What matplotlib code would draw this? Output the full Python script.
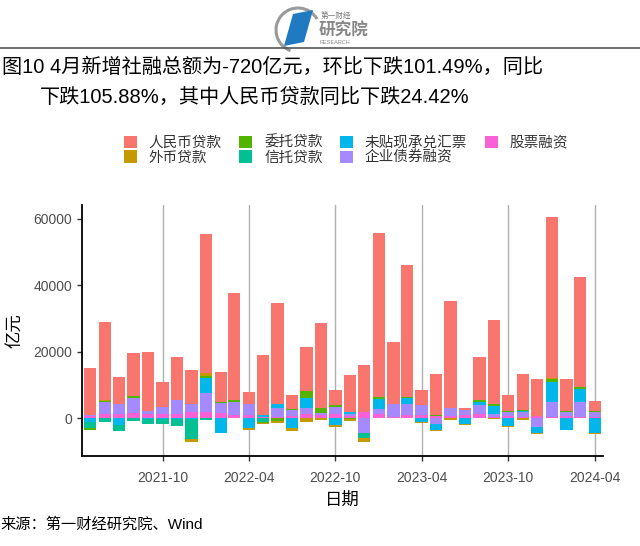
import numpy as np
import pandas as pd
import matplotlib
matplotlib.use("Agg")
import matplotlib.pyplot as plt
import matplotlib.dates as mdates
import matplotlib.patches as mpatches

plt.rcParams["font.family"] = ["Liberation Sans", "Noto Sans CJK SC"]

# ---- 数据（亿元），2021-05 ~ 2024-04 ----
months = pd.date_range("2021-05-01", "2024-04-01", freq="MS")

series_names = ["人民币贷款", "外币贷款", "委托贷款", "信托贷款",
                "未贴现承兑汇票", "企业债券融资", "股票融资"]
series_colors = ["#F8766D", "#C49A00", "#53B400", "#00C094",
                 "#00B6EB", "#A58AFF", "#FB61D7"]

rmb_loans = [14100, 23400, 8300, 12900, 17700, 7500, 13000, 10200,
             41900, 9100, 32200, 3500, 18000, 30500, 4100, 13300, 25500, 4500,
             11000, 14100, 49100, 18700, 39500, 4500, 12300, 32200, 600,
             13000, 25400, 4800, 10800, 11000, 48400, 9600, 32900, 3100]
fx_loans = [0, 300, 0, 0, 0, -200, 0, -700,
            1000, 0, 0, -500, -300, -500, -1000, -1000, -600, -700,
            -600, -1400, 0, 0, 0, -200, -300, -400, -300,
            0, -300, -400, -500, -300, 400, 0, 0, -300]
entrusted = [-400, 200, 0, 600, 0, 0, 0, 0,
             400, 300, 500, 0, -300, -800, 200, 2000, 1700, 400,
             -200, 0, 800, 0, 500, 0, 300, 0, 0,
             500, 400, 400, 300, 200, 800, 300, 700, 200]
trust = [-1800, -1200, -1700, -800, -1400, -1300, -2000, -6000,
         -400, 0, 0, 0, -1200, 0, 0, 0, 0, 0,
         0, -1300, 0, 0, 0, 0, 0, 0, 0,
         0, 0, 0, 0, 0, 0, 0, 0, 0]
bills = [-1200, 0, -2000, 0, -300, -300, -200, -300,
         4700, -4500, 0, -3000, 500, 1100, -2800, 3000, 0, -2000,
         600, 0, 2900, 0, 1800, -1200, -1800, 0, -1800,
         1000, 2600, -2300, 300, -2000, 6200, -3500, 4000, -4300]
corp_bonds = [300, 3800, 3000, 4700, 1000, 2300, 4200, 2500,
              5700, 3100, 4000, 3500, 100, 2700, 1900, 2000, 600, 2300,
              600, -4500, 1600, 3800, 3200, 3100, -1800, 2400, 1500,
              2800, 800, 1000, 1500, -2500, 4400, 1200, 4400, 1700]
stocks = [700, 1200, 1200, 1500, 1200, 1200, 1300, 1800,
          1800, 1500, 1000, 900, 400, 500, 700, 1200, 900, 1200,
          700, 1800, 1200, 500, 1000, 900, 700, 800, 1000,
          1200, 400, 800, 400, 600, 400, 800, 400, 300]

data = [rmb_loans, fx_loans, entrusted, trust, bills, corp_bonds, stocks]

# ---- 画布 ----
fig = plt.figure(figsize=(6.4, 5.46), dpi=100)
W, H = 640, 546

def fx(px):
    return px / W

def fy(py):
    return 1 - py / H

# 标志
logo = fig.add_axes([0, 0, 1, 1], facecolor="none")
logo.set_xlim(0, W)
logo.set_ylim(H, 0)
logo.axis("off")
logo.add_patch(mpatches.Arc((298, 30), 44, 44, theta1=110, theta2=330,
                            color="#9a9a9a", lw=2.2))
logo.add_patch(mpatches.Polygon([(284, 46), (293, 14), (313, 10), (304, 42)],
                                closed=True, facecolor="#1f7ac2", edgecolor="none"))
logo.text(321, 16, "第一财经", fontsize=5.5, color="#777777", va="center")
logo.text(319, 31, "研究院", fontsize=12, color="#888888", va="center",
          fontweight="bold")
logo.text(320, 43, "RESEARCH", fontsize=4, color="#888888", va="center")
logo.plot([0, W], [48, 48], color="#555555", lw=1.2)

# 标题
fig.text(fx(2), fy(67), "图10 4月新增社融总额为-720亿元，环比下跌101.49%，同比",
         fontsize=14.5, va="center", ha="left")
fig.text(fx(40), fy(98), "下跌105.88%，其中人民币贷款同比下跌24.42%",
         fontsize=14.5, va="center", ha="left")

# ---- 主图 ----
ax = fig.add_axes([fx(82), fy(456), fx(603) - fx(82), fy(205) - fy(456)])

pos_base = np.zeros(len(months))
neg_base = np.zeros(len(months))
handles = {}
# ggplot 堆叠：最后一个类别最靠近零轴
for name, color, vals in reversed(list(zip(series_names, series_colors, data))):
    v = np.array(vals, dtype=float)
    pos = np.where(v > 0, v, 0)
    neg = np.where(v < 0, v, 0)
    b = ax.bar(months, pos, bottom=pos_base, width=26, color=color,
               linewidth=0, zorder=2)
    ax.bar(months, neg, bottom=neg_base, width=26, color=color,
           linewidth=0, zorder=2)
    pos_base += pos
    neg_base += neg
    handles[name] = b

ax.set_ylim(-11340, 64150)
ax.set_xlim(pd.Timestamp("2021-04-14"), pd.Timestamp("2024-04-18"))
ax.set_yticks([0, 20000, 40000, 60000])
ticks = pd.to_datetime(["2021-10-01", "2022-04-01", "2022-10-01",
                        "2023-04-01", "2023-10-01", "2024-04-01"])
ax.set_xticks(ticks)
ax.xaxis.set_major_formatter(mdates.DateFormatter("%Y-%m"))
ax.grid(axis="x", color="#b0b0b0", lw=1.0, zorder=0)
ax.set_axisbelow(True)
for s in ["top", "right"]:
    ax.spines[s].set_visible(False)
for s in ["left", "bottom"]:
    ax.spines[s].set_linewidth(1.3)
    ax.spines[s].set_color("black")
ax.tick_params(axis="both", length=3.5, width=1.0, color="#333333",
               labelsize=10, labelcolor="#4d4d4d")
ax.tick_params(axis="x", pad=7)
ax.set_ylabel("亿元", fontsize=12.5, labelpad=7)
ax.set_xlabel("日期", fontsize=12.5, labelpad=5)

# 图例（两行四列，按列排）
leg = fig.legend([handles[n] for n in series_names], series_names,
                 ncol=4, loc="center", bbox_to_anchor=(fx(346), fy(150)),
                 frameon=False, fontsize=10.5, handlelength=0.9,
                 handleheight=0.9, handletextpad=0.8, columnspacing=1.2,
                 labelspacing=0.05, labelcolor="#333333")

fig.text(fx(0), fy(525), "来源：第一财经研究院、Wind", fontsize=11,
         va="center", ha="left")

fig.savefig("out.png", dpi=100)
